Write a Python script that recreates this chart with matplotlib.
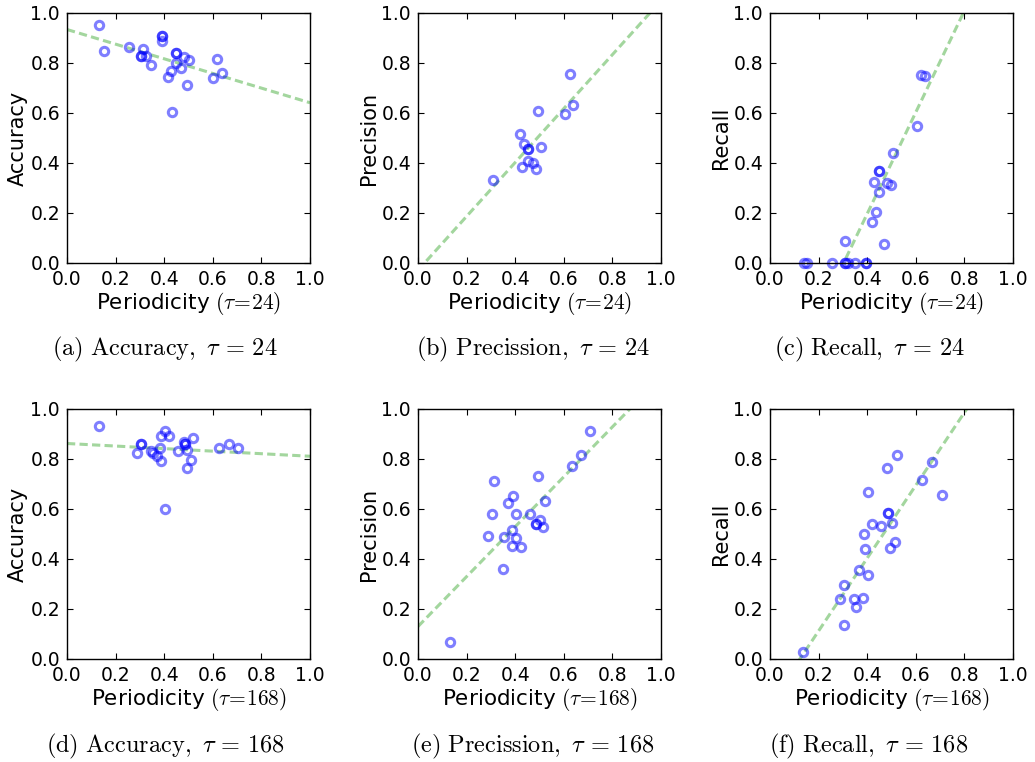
import numpy as np
import matplotlib
matplotlib.use("Agg")
import matplotlib.pyplot as plt

plt.rcParams['mathtext.fontset'] = 'cm'
plt.rcParams['font.family'] = ['DejaVu Sans']

# ---- data ----
# tau = 24
acc24_x = [0.13, 0.152, 0.255, 0.311, 0.303, 0.303, 0.324, 0.346, 0.390, 0.390, 0.392,
           0.449, 0.449, 0.449, 0.427, 0.417, 0.469, 0.481, 0.503, 0.493, 0.433,
           0.602, 0.619, 0.636]
acc24_y = [0.951, 0.849, 0.865, 0.855, 0.829, 0.829, 0.829, 0.791, 0.908, 0.908, 0.889,
           0.839, 0.839, 0.799, 0.769, 0.743, 0.779, 0.823, 0.812, 0.711, 0.605,
           0.739, 0.815, 0.759]
prec24_x = [0.420, 0.436, 0.451, 0.451, 0.505, 0.454, 0.475, 0.429, 0.484, 0.310,
            0.492, 0.605, 0.639, 0.626]
prec24_y = [0.516, 0.475, 0.455, 0.455, 0.465, 0.408, 0.401, 0.383, 0.375, 0.332,
            0.608, 0.595, 0.631, 0.756]
rec24_x = [0.140, 0.154, 0.254, 0.309, 0.309, 0.321, 0.350, 0.394, 0.394, 0.309,
           0.469, 0.419, 0.436, 0.450, 0.429, 0.449, 0.449, 0.483, 0.497, 0.505,
           0.604, 0.621, 0.638]
rec24_y = [0.0, 0.0, 0.0, 0.0, 0.0, 0.0, 0.0, 0.0, 0.0, 0.089,
           0.075, 0.163, 0.204, 0.285, 0.325, 0.368, 0.368, 0.319, 0.312, 0.439,
           0.548, 0.752, 0.748]
# tau = 168
acc168_x = [0.13, 0.305, 0.305, 0.287, 0.346, 0.355, 0.369, 0.383, 0.387, 0.385, 0.403,
            0.421, 0.455, 0.483, 0.486, 0.486, 0.495, 0.520, 0.510, 0.495, 0.404,
            0.627, 0.665, 0.704]
acc168_y = [0.934, 0.861, 0.861, 0.823, 0.831, 0.823, 0.813, 0.845, 0.793, 0.894, 0.912,
            0.891, 0.831, 0.869, 0.859, 0.859, 0.837, 0.883, 0.797, 0.766, 0.602,
            0.843, 0.862, 0.846]
prec168_x = [0.132, 0.312, 0.306, 0.289, 0.348, 0.353, 0.372, 0.389, 0.386, 0.387, 0.405,
             0.405, 0.423, 0.460, 0.485, 0.485, 0.501, 0.515, 0.495, 0.522, 0.632,
             0.669, 0.707]
prec168_y = [0.069, 0.714, 0.581, 0.491, 0.362, 0.489, 0.625, 0.652, 0.516, 0.452, 0.581,
             0.483, 0.449, 0.581, 0.541, 0.541, 0.558, 0.528, 0.734, 0.632, 0.774,
             0.815, 0.911]
rec168_x = [0.134, 0.305, 0.304, 0.290, 0.352, 0.347, 0.384, 0.367, 0.404, 0.390, 0.386,
            0.404, 0.421, 0.455, 0.486, 0.486, 0.500, 0.493, 0.514, 0.482, 0.521,
            0.627, 0.667, 0.708]
rec168_y = [0.027, 0.137, 0.295, 0.242, 0.210, 0.242, 0.243, 0.355, 0.335, 0.441, 0.499,
            0.669, 0.541, 0.532, 0.585, 0.585, 0.545, 0.445, 0.468, 0.765, 0.818,
            0.718, 0.787, 0.656]

# fitted trend lines: (intercept, slope)
fit_intercepts = [0.934, -0.029, -0.615, 0.862, 0.130, -0.179]
fit_slopes = [-0.293, 1.078, 2.03, -0.051, 0.998, 1.456]

xs_all = [acc24_x, prec24_x, rec24_x, acc168_x, prec168_x, rec168_x]
ys_all = [acc24_y, prec24_y, rec24_y, acc168_y, prec168_y, rec168_y]
ylabels = ['Accuracy', 'Precision', 'Recall', 'Accuracy', 'Precision', 'Recall']
taus = ['24', '24', '24', '168', '168', '168']
captions = [r'$\mathrm{(a)\ Accuracy,}\ \tau\,=\,24$',
            r'$\mathrm{(b)\ Precission,}\ \tau\,=\,24$',
            r'$\mathrm{(c)\ Recall,}\ \tau\,=\,24$',
            r'$\mathrm{(d)\ Accuracy,}\ \tau\,=\,168$',
            r'$\mathrm{(e)\ Precission,}\ \tau\,=\,168$',
            r'$\mathrm{(f)\ Recall,}\ \tau\,=\,168$']
ticks = [0.0, 0.2, 0.4, 0.6, 0.8, 1.0]

W, H = 1035, 762
fig = plt.figure(figsize=(W / 100, H / 100), dpi=100)

lefts = [67, 418, 770]
tops = [13, 409]
aw, ah = 243, 250
cap_x = [165, 533, 869]
cap_y = [349, 746]

for i in range(6):
    r, c = divmod(i, 3)
    ax = fig.add_axes([lefts[c] / W, (H - tops[r] - ah) / H, aw / W, ah / H])
    xx = np.array([0.0, 1.0])
    ax.plot(xx, fit_intercepts[i] + fit_slopes[i] * xx, color='#a3d69e',
            lw=2.2, dashes=(2.7, 1.4), zorder=1)
    ax.plot(xs_all[i], ys_all[i], 'o', ms=6.0, mfc='none', mec='b', mew=2.2,
            alpha=0.5, zorder=2, clip_on=False)
    ax.set_xlim(0, 1)
    ax.set_ylim(0, 1)
    ax.set_xticks(ticks)
    ax.set_yticks(ticks)
    ax.set_xticklabels([f'{t:.1f}' for t in ticks])
    ax.set_yticklabels([f'{t:.1f}' for t in ticks])
    ax.tick_params(direction='in', top=True, right=True, length=4.5, width=0.8,
                   labelsize=13.5, pad=5)
    for s in ax.spines.values():
        s.set_linewidth(1.0)
    ax.set_xlabel('Periodicity ' + r'$(\tau\!=\!' + taus[i] + ')$', fontsize=15.5, labelpad=1)
    ax.set_ylabel(ylabels[i], fontsize=15, labelpad=2)
    fig.text(cap_x[c] / W, 1 - cap_y[r] / H, captions[i], ha='center', va='center',
             fontsize=17.5)

fig.savefig('out.png', dpi=100)
